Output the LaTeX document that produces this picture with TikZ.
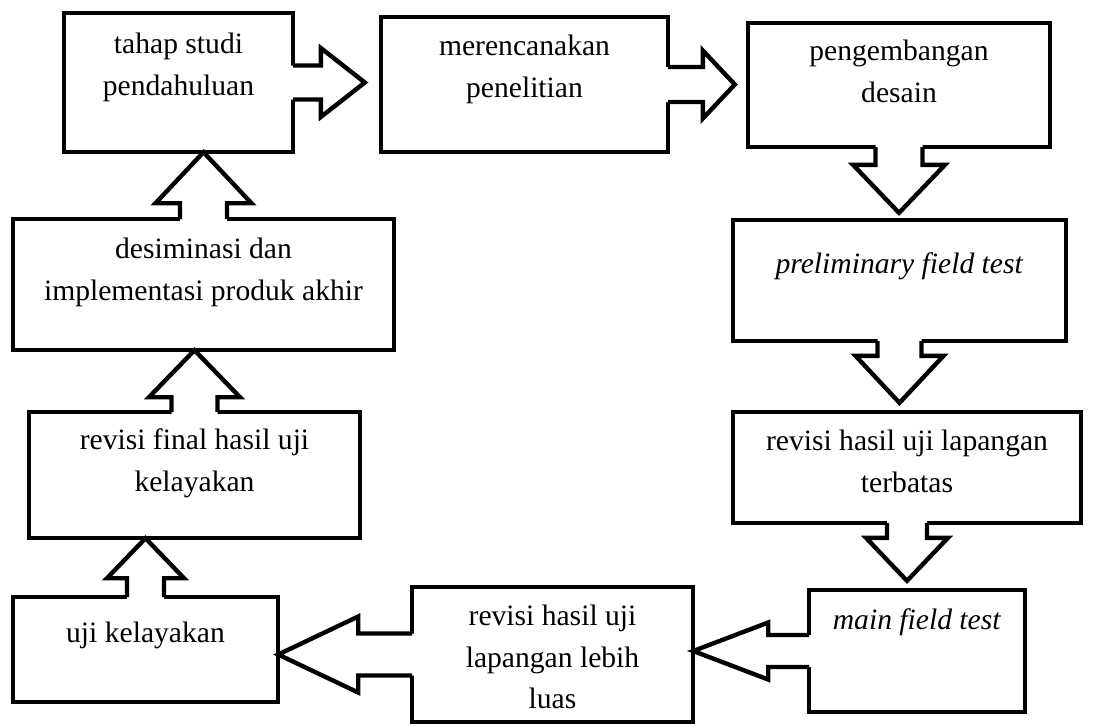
\documentclass[tikz,border=0pt]{standalone}
\usepackage{fontspec}
\setmainfont{Liberation Serif}
\usetikzlibrary{calc,fit}
\tikzset{
  box/.style={draw, line width=2.2pt, inner sep=0pt},
  blk/.style={draw, line width=2.2pt, line join=miter},
  txt/.style={inner sep=0pt, anchor=base, font=\fontsize{14.8}{20.75}\selectfont},
}
\newcommand\ttab[1]{\begin{tabular}[t]{@{}c@{}}#1\end{tabular}}
% #1 from, #2 to, #3 stem half, #4 head half, #5 head length, #6 gap
\newcommand\arrR[6]{%
  \coordinate (s) at (#1.east);
  \coordinate (t) at ($(#1.east -| #2.west)+(-#6,0)$);
  \fill[white] ($(s)+(-6,-#3)$) -- ($(t)+(-#5,-#3)$) -- ($(t)+(-#5,-#4)$) -- (t) -- ($(t)+(-#5,#4)$) -- ($(t)+(-#5,#3)$) -- ($(s)+(-6,#3)$) -- cycle;
  \draw[blk] ($(s)+(-2.2,-#3)$) -- ($(t)+(-#5,-#3)$) -- ($(t)+(-#5,-#4)$) -- (t) -- ($(t)+(-#5,#4)$) -- ($(t)+(-#5,#3)$) -- ($(s)+(-2.2,#3)$);
}
\newcommand\arrL[6]{%
  \coordinate (s) at (#1.west);
  \coordinate (t) at ($(#1.west -| #2.east)+(#6,0)$);
  \fill[white] ($(s)+(6,-#3)$) -- ($(t)+(#5,-#3)$) -- ($(t)+(#5,-#4)$) -- (t) -- ($(t)+(#5,#4)$) -- ($(t)+(#5,#3)$) -- ($(s)+(6,#3)$) -- cycle;
  \draw[blk] ($(s)+(2.2,-#3)$) -- ($(t)+(#5,-#3)$) -- ($(t)+(#5,-#4)$) -- (t) -- ($(t)+(#5,#4)$) -- ($(t)+(#5,#3)$) -- ($(s)+(2.2,#3)$);
}
\newcommand\arrD[6]{%
  \coordinate (s) at (#1.south);
  \coordinate (t) at ($(#1.south |- #2.north)+(0,-#6)$);
  \fill[white] ($(s)+(-#3,-6)$) -- ($(t)+(-#3,-#5)$) -- ($(t)+(-#4,-#5)$) -- (t) -- ($(t)+(#4,-#5)$) -- ($(t)+(#3,-#5)$) -- ($(s)+(#3,-6)$) -- cycle;
  \draw[blk] ($(s)+(-#3,-2.2)$) -- ($(t)+(-#3,-#5)$) -- ($(t)+(-#4,-#5)$) -- (t) -- ($(t)+(#4,-#5)$) -- ($(t)+(#3,-#5)$) -- ($(s)+(#3,-2.2)$);
}
\newcommand\arrU[6]{%
  \coordinate (s) at (#1.north);
  \coordinate (t) at ($(#1.north |- #2.south)+(0,#6)$);
  \fill[white] ($(s)+(-#3,6)$) -- ($(t)+(-#3,#5)$) -- ($(t)+(-#4,#5)$) -- (t) -- ($(t)+(#4,#5)$) -- ($(t)+(#3,#5)$) -- ($(s)+(#3,6)$) -- cycle;
  \draw[blk] ($(s)+(-#3,2.2)$) -- ($(t)+(-#3,#5)$) -- ($(t)+(-#4,#5)$) -- (t) -- ($(t)+(#4,#5)$) -- ($(t)+(#3,#5)$) -- ($(s)+(#3,2.2)$);
}
\begin{document}
\begin{tikzpicture}[x=0.5pt,y=-0.5pt]
\useasboundingbox[fill=white] (0,0) rectangle (1112,725);
% boxes
\node[box, fit={(64,13) (293,152)}] (b1) {};
\node[box, fit={(381,17) (668,152)}] (b2) {};
\node[box, fit={(748,23) (1050,147)}] (b3) {};
\node[box, fit={(733,220) (1066,341)}] (b4) {};
\node[box, fit={(733,412) (1081,523)}] (b5) {};
\node[box, fit={(809,590) (1025,712)}] (b6) {};
\node[box, fit={(412,587) (693,722)}] (b7) {};
\node[box, fit={(13,597) (278,702)}] (b8) {};
\node[box, fit={(29,412) (360,538)}] (b9) {};
\node[box, fit={(13,219) (394,350)}] (b10) {};
% block arrows
\arrR{b1}{b2}{17}{34.5}{44}{14}
\arrR{b2}{b3}{17.5}{34}{32}{11}
\arrD{b3}{b4}{23.5}{46}{48}{5}
\arrD{b4}{b5}{22}{44}{47}{7}
\arrD{b5}{b6}{20}{41}{43}{7}
\arrL{b6}{b7}{16}{28.5}{75}{-2}
\arrL{b7}{b8}{21}{38}{80}{-2}
\arrU{b8}{b9}{18.5}{38.5}{40}{-2}
\arrU{b9}{b10}{23}{45.5}{47}{-2}
\arrU{b10}{b1}{23.5}{48}{51}{-2}
% texts
\node[txt] (t1) at ($(b1.north)+(0,43)$) {\ttab{tahap studi\\pendahuluan}};
\node[txt] (t2) at ($(b2.north)+(0,41)$) {\ttab{merencanakan\\penelitian}};
\node[txt] (t3) at ($(b3.north)+(0,40)$) {\ttab{pengembangan\\desain}};
\node[txt] (t4) at ($(b4.north)+(0,56)$) {\textit{preliminary field test}};
\node[txt] (t5) at ($(b5.north)+(0,41)$) {\ttab{revisi hasil uji lapangan\\terbatas}};
\node[txt] (t6) at ($(b6.north)+(0,42)$) {\textit{main field test}};
\node[txt] (t7) at ($(b7.north)+(0,41)$) {\ttab{revisi hasil uji\\lapangan lebih\\luas}};
\node[txt] (t8) at ($(b8.north)+(0,48)$) {uji kelayakan};
\node[txt] (t9) at ($(b9.north)+(0,40)$) {\ttab{revisi final hasil uji\\kelayakan}};
\node[txt] (t10) at ($(b10.north)+(0,42)$) {\ttab{desiminasi dan\\implementasi produk akhir}};
\end{tikzpicture}
\end{document}
